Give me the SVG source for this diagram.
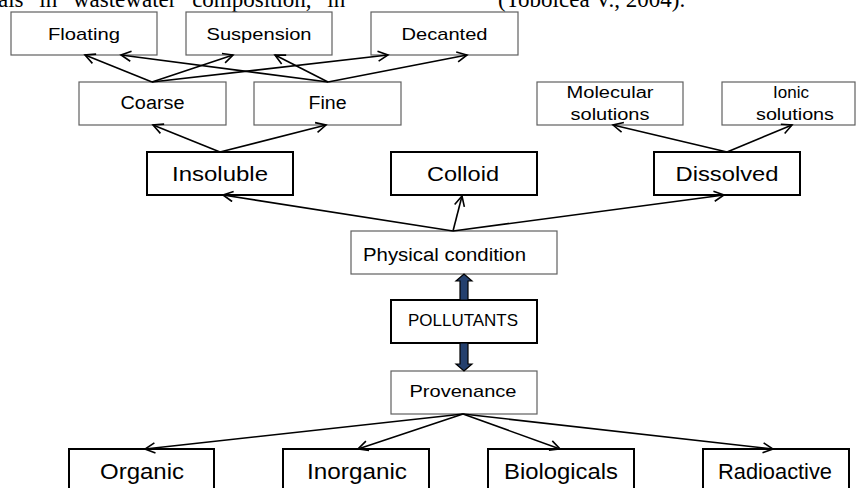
<svg xmlns="http://www.w3.org/2000/svg" width="857" height="488" viewBox="0 0 857 488">
<defs>
<style>
.bt{fill:#fff;stroke:#000;stroke-width:2}
.bl{fill:#fff;stroke:#606060;stroke-width:1.2}
.t{font-family:"Liberation Sans",Arial,sans-serif;fill:#000;text-anchor:middle}
.hd{font-family:"Liberation Serif","Times New Roman",serif;fill:#000;font-size:23px}
.c line{stroke:#000;stroke-width:1.6;fill:none;marker-end:url(#ah)}
.thick{fill:#24406e;stroke:#000;stroke-width:1.2}
</style>
<marker id="ah" markerUnits="userSpaceOnUse" markerWidth="14" markerHeight="14" refX="11" refY="6" orient="auto">
<path d="M1,1 L11,6 L1,11" fill="none" stroke="#000" stroke-width="1.6"/>
</marker>
</defs>
<rect width="857" height="488" fill="#fff"/>
<text class="hd" x="-2" y="7" word-spacing="10">als in wastewater composition, in</text>
<text class="hd" x="498" y="7">(Tobolcea V., 2004).</text>

<g id="floating"><rect class="bl" x="11" y="12" width="146" height="43"/><text class="t" x="84" y="40" font-size="17" textLength="72" lengthAdjust="spacingAndGlyphs">Floating</text></g>
<g id="suspension"><rect class="bl" x="186" y="12" width="146" height="43"/><text class="t" x="259" y="40" font-size="17" textLength="105" lengthAdjust="spacingAndGlyphs">Suspension</text></g>
<g id="decanted"><rect class="bl" x="371" y="12" width="147" height="43"/><text class="t" x="444.5" y="40" font-size="17" textLength="86" lengthAdjust="spacingAndGlyphs">Decanted</text></g>
<g id="coarse"><rect class="bl" x="79" y="82" width="147" height="43"/><text class="t" x="152.5" y="109" font-size="18" textLength="64" lengthAdjust="spacingAndGlyphs">Coarse</text></g>
<g id="fine"><rect class="bl" x="254" y="82" width="147" height="43"/><text class="t" x="327.5" y="109" font-size="18" textLength="38" lengthAdjust="spacingAndGlyphs">Fine</text></g>
<g id="molecular"><rect class="bl" x="537" y="82" width="146" height="43"/><text class="t" x="610" y="98" font-size="16" textLength="87" lengthAdjust="spacingAndGlyphs">Molecular</text><text class="t" x="610" y="120" font-size="16" textLength="79" lengthAdjust="spacingAndGlyphs">solutions</text></g>
<g id="ionic"><rect class="bl" x="722" y="82" width="133" height="43"/><text class="t" x="791" y="98" font-size="17">Ionic</text><text class="t" x="795" y="120" font-size="16" textLength="78" lengthAdjust="spacingAndGlyphs">solutions</text></g>
<g id="insoluble"><rect class="bt" x="147" y="152" width="146" height="43"/><text class="t" x="220" y="181" font-size="20.5" textLength="96" lengthAdjust="spacingAndGlyphs">Insoluble</text></g>
<g id="colloid"><rect class="bt" x="391" y="152" width="146" height="43"/><text class="t" x="463" y="181" font-size="20.5" textLength="72" lengthAdjust="spacingAndGlyphs">Colloid</text></g>
<g id="dissolved"><rect class="bt" x="654" y="152" width="146" height="43"/><text class="t" x="727" y="181" font-size="20.5" textLength="103" lengthAdjust="spacingAndGlyphs">Dissolved</text></g>
<g id="physical"><rect class="bl" x="351" y="231" width="206" height="43"/><text class="t" x="444.5" y="261" font-size="18" textLength="163" lengthAdjust="spacingAndGlyphs">Physical condition</text></g>
<g id="pollutants"><rect class="bt" x="391" y="300" width="146" height="43"/><text class="t" x="463" y="326" font-size="16.5" textLength="110" lengthAdjust="spacingAndGlyphs">POLLUTANTS</text></g>
<g id="provenance"><rect class="bl" x="391" y="371" width="146" height="43"/><text class="t" x="463" y="397" font-size="17" textLength="107" lengthAdjust="spacingAndGlyphs">Provenance</text></g>
<g id="organic"><rect class="bt" x="69" y="449" width="145" height="50"/><text class="t" x="142" y="479" font-size="22.5" textLength="84" lengthAdjust="spacingAndGlyphs">Organic</text></g>
<g id="inorganic"><rect class="bt" x="283" y="449" width="146" height="50"/><text class="t" x="357" y="479" font-size="22.5" textLength="100" lengthAdjust="spacingAndGlyphs">Inorganic</text></g>
<g id="biologicals"><rect class="bt" x="488" y="449" width="146" height="50"/><text class="t" x="561" y="479" font-size="22.5" textLength="114" lengthAdjust="spacingAndGlyphs">Biologicals</text></g>
<g id="radioactive"><rect class="bt" x="703" y="449" width="146" height="50"/><text class="t" x="775" y="479" font-size="22.5" textLength="114" lengthAdjust="spacingAndGlyphs">Radioactive</text></g>

<g id="connectors" class="c">
<line x1="152" y1="82" x2="85" y2="55"/>
<line x1="152" y1="82" x2="233" y2="55"/>
<line x1="152" y1="82" x2="388" y2="55"/>
<line x1="328" y1="82" x2="121" y2="55"/>
<line x1="328" y1="82" x2="275" y2="55"/>
<line x1="328" y1="82" x2="467" y2="55"/>
<line x1="220" y1="152" x2="153" y2="125"/>
<line x1="220" y1="152" x2="326" y2="125"/>
<line x1="727" y1="152" x2="613" y2="125"/>
<line x1="727" y1="152" x2="792" y2="125"/>
<line x1="453" y1="231" x2="223" y2="195"/>
<line x1="453" y1="231" x2="462" y2="196"/>
<line x1="453" y1="231" x2="724" y2="195"/>
<line x1="463" y1="414" x2="145" y2="449"/>
<line x1="463" y1="414" x2="358" y2="449"/>
<line x1="463" y1="414" x2="560" y2="449"/>
<line x1="463" y1="414" x2="773" y2="449"/>
<path class="thick" d="M460,300 L460,281 L456,281 L464,274 L472,281 L468,281 L468,300 Z"/>
<path class="thick" d="M460,343 L460,364 L456,364 L464,371 L472,364 L468,364 L468,343 Z"/>
</g>
</svg>
